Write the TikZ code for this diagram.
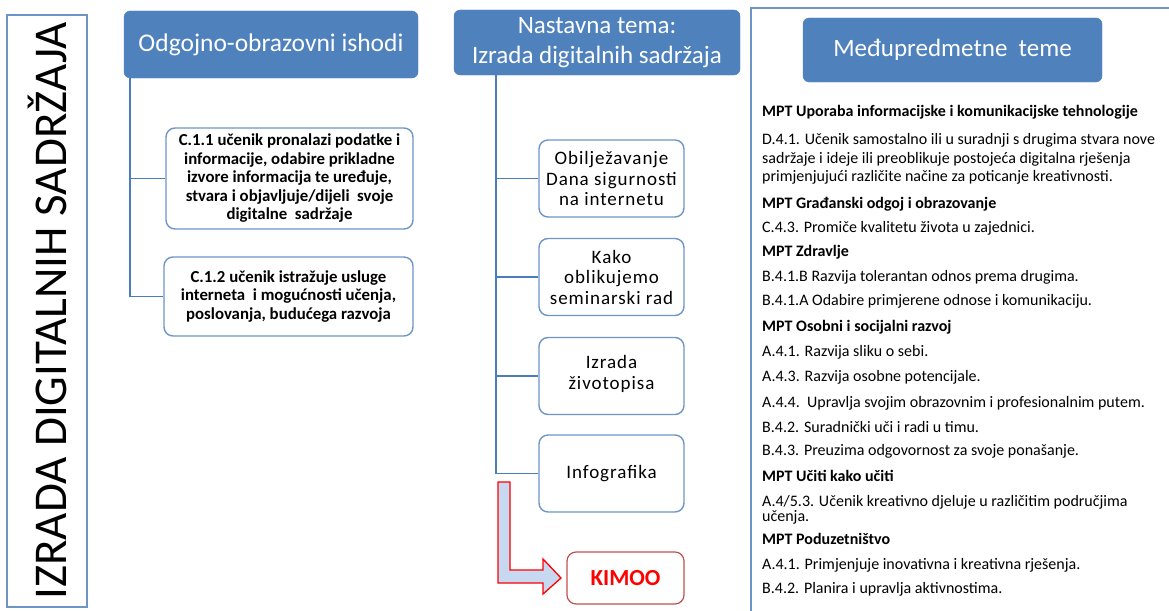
\documentclass[tikz,border=0pt]{standalone}
\usepackage{fontspec}
\setmainfont{Carlito}
\usetikzlibrary{positioning}

\definecolor{hdrblue}{HTML}{4F81BD}
\definecolor{lineblue}{HTML}{4A7EBB}
\definecolor{boxblue}{HTML}{6E95C8}
\definecolor{arrowfill}{HTML}{C6D9F1}
\definecolor{kimooedge}{HTML}{C0504D}

\tikzset{
  hdr/.style={fill=hdrblue, draw=hdrblue, rounded corners=6pt, text=white,
    align=center, inner sep=0pt, font=\fontsize{25}{30}\selectfont},
  goal/.style={draw=boxblue, line width=1.4pt, fill=white, rounded corners=9pt,
    align=center, inner sep=0pt, font=\fontsize{16.8}{18.5}\selectfont\bfseries},
  topic/.style={draw=boxblue, line width=1.4pt, fill=white, rounded corners=9pt,
    align=center, inner sep=0pt, minimum width=145pt, minimum height=77pt,
    font=\fontsize{19}{20.5}\selectfont\addfontfeature{LetterSpace=5}},
  link/.style={draw=lineblue, line width=1.5pt},
  mpt/.style={anchor=west, inner sep=0pt, font=\fontsize{16}{13}\selectfont},
  mpthead/.style={mpt, font=\fontsize{16}{13}\selectfont\bfseries}
}

\begin{document}
\begin{tikzpicture}[x=1pt, y=-1pt]
    \useasboundingbox (0,0) rectangle (1169,610);

    % Title column
    \node[draw=boxblue, line width=1.2pt, rotate=90, minimum width=592pt,
      minimum height=80pt, inner sep=0pt, font=\fontsize{47}{47}\selectfont]
      (title) at (47,311) {IZRADA DIGITALNIH SADRŽAJA};

    % Learning outcomes
    \node[hdr, minimum width=294pt, minimum height=67pt] (ishodi) at (271,44.5)
      {\fontsize{25.5}{30}\selectfont Odgojno-obrazovni ishodi};
    \node[goal, minimum width=247pt, minimum height=101pt] (c11) at (289.5,178.5)
      {C.1.1 učenik pronalazi podatke i\\ informacije, odabire prikladne\\
       izvore informacija te uređuje,\\ stvara i objavljuje/dijeli\ \ svoje\\
       digitalne\ \ sadržaje};
    \node[goal, minimum width=249pt, minimum height=79pt] (c12) at (288.5,296.5)
      {C.1.2 učenik istražuje usluge\\ interneta\ \ i mogućnosti učenja,\\
       poslovanja, budućega razvoja};

    \coordinate (trunk1) at ([xshift=6pt]ishodi.south west);
    \draw[link] (trunk1) |- (c11.west);
    \draw[link] (trunk1) |- (c12.west);

    % Topic and its lessons
    \node[hdr, minimum width=286pt, minimum height=65pt] (tema) at (597,42.5)
      {Nastavna tema:\\ Izrada digitalnih sadržaja};
    \node[topic] (t1) at (611.5,178.5) {Obilježavanje\\ Dana sigurnosti\\ na internetu};
    \node[topic] (t2) at (611.5,277) {Kako\\ oblikujemo\\ seminarski rad};
    \node[topic] (t3) at (611.5,376) {Izrada\\ životopisa\\[-13.5pt]};
    \node[topic] (t4) at (611.5,473.5) {Infografika};
    \node[draw=kimooedge, line width=1.2pt, rounded corners=9pt, minimum width=117pt,
      minimum height=52pt, inner sep=0pt, text=red,
      font=\fontsize{23}{23}\selectfont\bfseries] (kimoo) at (625.5,578) {KIMOO};

    \coordinate (trunk2) at ([xshift=42pt]tema.south west);
    \foreach \t in {t1,t2,t3,t4}
      \draw[link] (trunk2) |- (\t.west);

    % Block arrow down to KIMOO
    \draw[red, line width=1.3pt, fill=arrowfill, line join=miter]
      (498,482) -- (510,482) -- (510,570) -- (543,570) -- (543,559)
      -- (kimoo.west -| 561,0) -- (543,594) -- (543,583) -- (498,583) -- cycle;

    % Cross-curricular themes
    \draw[draw=boxblue, line width=1.3pt] (751,8) rectangle (1190,630);
    \node[hdr, minimum width=299pt, minimum height=64pt] (mhdr) at (952.5,50)
      {Međupredmetne\ \ teme};

    \node[mpthead] (m1) at (762,112) {MPT Uporaba informacijske i komunikacijske tehnologije};
    \node[mpt, align=left, font=\fontsize{16}{18.5}\selectfont] (m2) at (762,159)
      {D.4.1. Učenik samostalno ili u suradnji s drugima stvara nove\\
       sadržaje i ideje ili preoblikuje postojeća digitalna rješenja\\
       primjenjujući različite načine za poticanje kreativnosti.};
    \node[mpthead] (m3) at (762,204) {MPT Građanski odgoj i obrazovanje};
    \node[mpt] (m4) at (762,228) {C.4.3. Promiče kvalitetu života u zajednici.};
    \node[mpthead] (m5) at (762,252) {MPT Zdravlje};
    \node[mpt] (m6) at (762,277) {B.4.1.B Razvija tolerantan odnos prema drugima.};
    \node[mpt] (m7) at (762,301) {B.4.1.A Odabire primjerene odnose i komunikaciju.};
    \node[mpthead] (m8) at (762,327) {MPT Osobni i socijalni razvoj};
    \node[mpt] (m9) at (762,352) {A.4.1. Razvija sliku o sebi.};
    \node[mpt] (m10) at (762,377) {A.4.3. Razvija osobne potencijale.};
    \node[mpt] (m11) at (762,403) {A.4.4.\ \ Upravlja svojim obrazovnim i profesionalnim putem.};
    \node[mpt] (m12) at (762,427) {B.4.2. Suradnički uči i radi u timu.};
    \node[mpt] (m13) at (762,451) {B.4.3. Preuzima odgovornost za svoje ponašanje.};
    \node[mpthead] (m14) at (762,476) {MPT Učiti kako učiti};
    \node[mpt, align=left, font=\fontsize{16}{12.5}\selectfont] (m15) at (762,509.5)
      {A.4/5.3. Učenik kreativno djeluje u različitim područjima\\ učenja.};
    \node[mpthead] (m16) at (762,539) {MPT Poduzetništvo};
    \node[mpt] (m17) at (762,565) {A.4.1. Primjenjuje inovativna i kreativna rješenja.};
    \node[mpt] (m18) at (762,589) {B.4.2. Planira i upravlja aktivnostima.};
\end{tikzpicture}
\end{document}
